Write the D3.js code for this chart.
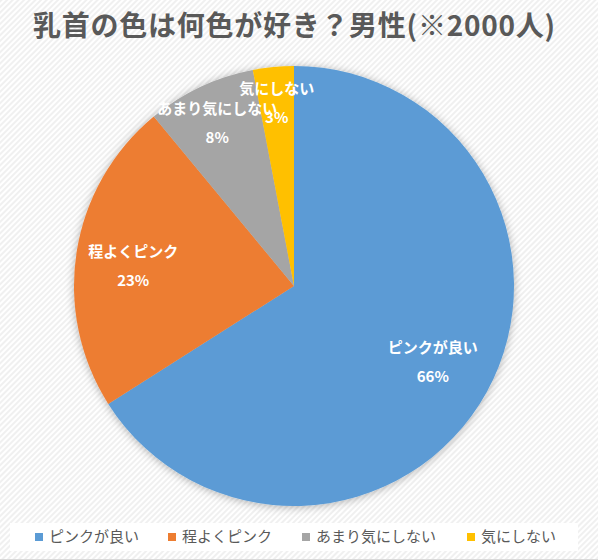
<!DOCTYPE html>
<html><head><meta charset="utf-8">
<script src="https://cdn.jsdelivr.net/npm/d3@7"></script>
<style>
html,body{margin:0;padding:0;background:#fff;}
svg{display:block;}
</style></head>
<body>
<script>
const categories = ["ピンクが良い", "程よくピンク", "あまり気にしない", "気にしない"];
const values = [66, 23, 8, 3];
const percentLabels = ["66%", "23%", "8%", "3%"];
const colors = ["#5B9BD5", "#ED7D31", "#A5A5A5", "#FFC000"];
const title = "乳首の色は何色が好き？男性(※2000人)";

const W = 598, H = 560;
const font = "'Noto Sans CJK JP', 'Noto Sans', sans-serif";
const svg = d3.select("body").append("svg").attr("width", W).attr("height", H);
const defs = svg.append("defs");
const pat = defs.append("pattern").attr("id", "stripes").attr("patternUnits", "userSpaceOnUse")
  .attr("width", 4).attr("height", 4).attr("patternTransform", "rotate(-45)");
pat.append("rect").attr("width", 4).attr("height", 4).attr("fill", "#ffffff");
pat.append("rect").attr("width", 4).attr("height", 2).attr("fill", "#f0f0f0");
const flt = defs.append("filter").attr("id", "shadow").attr("x", "-20%").attr("y", "-20%").attr("width", "140%").attr("height", "140%");
flt.append("feDropShadow").attr("dx", 0).attr("dy", 1).attr("stdDeviation", 4).attr("flood-color", "#000").attr("flood-opacity", 0.3);

svg.append("rect").attr("width", W).attr("height", H).attr("fill", "url(#stripes)");
svg.append("line").attr("x1", 0).attr("x2", W).attr("y1", H - 0.5).attr("y2", H - 0.5).attr("stroke", "#d9d9d9");

svg.append("text").attr("x", 294).attr("y", 36).attr("text-anchor", "middle")
  .attr("font-family", font).attr("font-size", 28).attr("font-weight", "bold").attr("fill", "#595959")
  .attr("textLength", 522).attr("lengthAdjust", "spacing")
  .text(title);

const cx = 294, cy = 286, R = 220;
const data = categories.map((c, i) => ({ cat: c, value: values[i], pct: percentLabels[i], color: colors[i] }));
const pie = d3.pie().sort(null).value(d => d.value);
const arcs = pie(data);
const arc = d3.arc().innerRadius(0).outerRadius(R);
const g = svg.append("g").attr("transform", `translate(${cx},${cy})`);
g.append("g").attr("filter", "url(#shadow)").selectAll("path").data(arcs).join("path")
  .attr("d", arc).attr("fill", d => d.data.color);

const labelK = [0.72, 0.74, 0.82, 0.835];
const labelDy = [0, 5, 0, 0];
arcs.forEach((a, i) => {
  const la = d3.arc().innerRadius(R * labelK[i]).outerRadius(R * labelK[i]);
  const [x, y0] = la.centroid(a);
  const y = y0 + labelDy[i];
  const t = g.append("text").attr("text-anchor", "middle").attr("font-family", font)
    .attr("font-size", 15).attr("font-weight", "bold").attr("fill", "#fff");
  t.append("tspan").attr("x", x).attr("y", y - 9).text(a.data.cat);
  t.append("tspan").attr("x", x).attr("y", y + 20).text(a.data.pct);
});

// legend
svg.append("rect").attr("x", 10).attr("y", 523).attr("width", 568).attr("height", 28).attr("fill", "#fff");
const lx = [35, 168, 302, 467];
data.forEach((d, i) => {
  svg.append("rect").attr("x", lx[i]).attr("y", 533).attr("width", 8).attr("height", 8).attr("fill", d.color);
  svg.append("text").attr("x", lx[i] + 14).attr("y", 542).attr("font-family", font).attr("font-size", 15)
    .attr("fill", "#595959").text(d.cat);
});
</script>
</body></html>
